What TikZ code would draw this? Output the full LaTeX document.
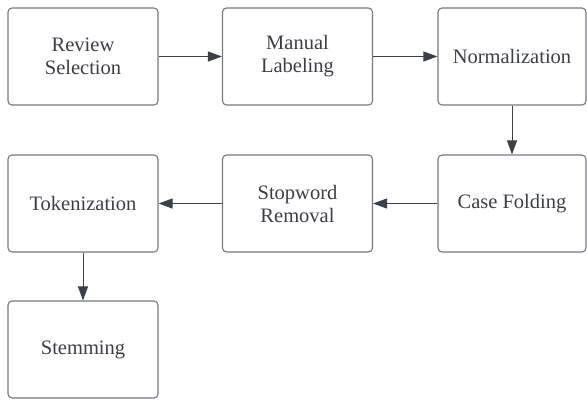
\documentclass[tikz,border=0pt]{standalone}
\usepackage{fontspec}
\setmainfont{Liberation Serif}
\usetikzlibrary{arrows.meta}
\definecolor{boxline}{HTML}{74787F}
\definecolor{arrowc}{HTML}{3A414A}
\definecolor{txt}{HTML}{3A3F47}
\tikzset{
  stepbox/.style={draw=boxline, line width=1.1pt, rounded corners=4pt, minimum width=150pt, minimum height=97pt, align=center, text=txt, font=\fontsize{20.5}{23}\selectfont},
  conn/.style={draw=arrowc, line width=1pt, -{Triangle[length=14pt,width=10pt]}}
}
\begin{document}
\begin{tikzpicture}[x=1pt,y=-1pt]
\useasboundingbox (0,0) rectangle (587,400);
\node[stepbox] (rs) at (83,56.5) {Review\\Selection};
\node[stepbox] (ml) at (297.5,56.5) {Manual\\Labeling};
\node[stepbox, minimum width=148pt] (no) at (512,56.5) {Normalization};
\node[stepbox, minimum width=148pt] (cf) at (512,203.5) {Case Folding};
\node[stepbox] (sr) at (297.5,203.5) {Stopword\\Removal};
\node[stepbox] (tk) at (83,203.5) {Tokenization};
\node[stepbox] (st) at (83,349.5) {Stemming};
\draw[conn] (rs) -- (ml);
\draw[conn] (ml) -- (no);
\draw[conn] (no) -- (cf);
\draw[conn] (cf) -- (sr);
\draw[conn] (sr) -- (tk);
\draw[conn] (tk) -- (st);
\end{tikzpicture}
\end{document}
